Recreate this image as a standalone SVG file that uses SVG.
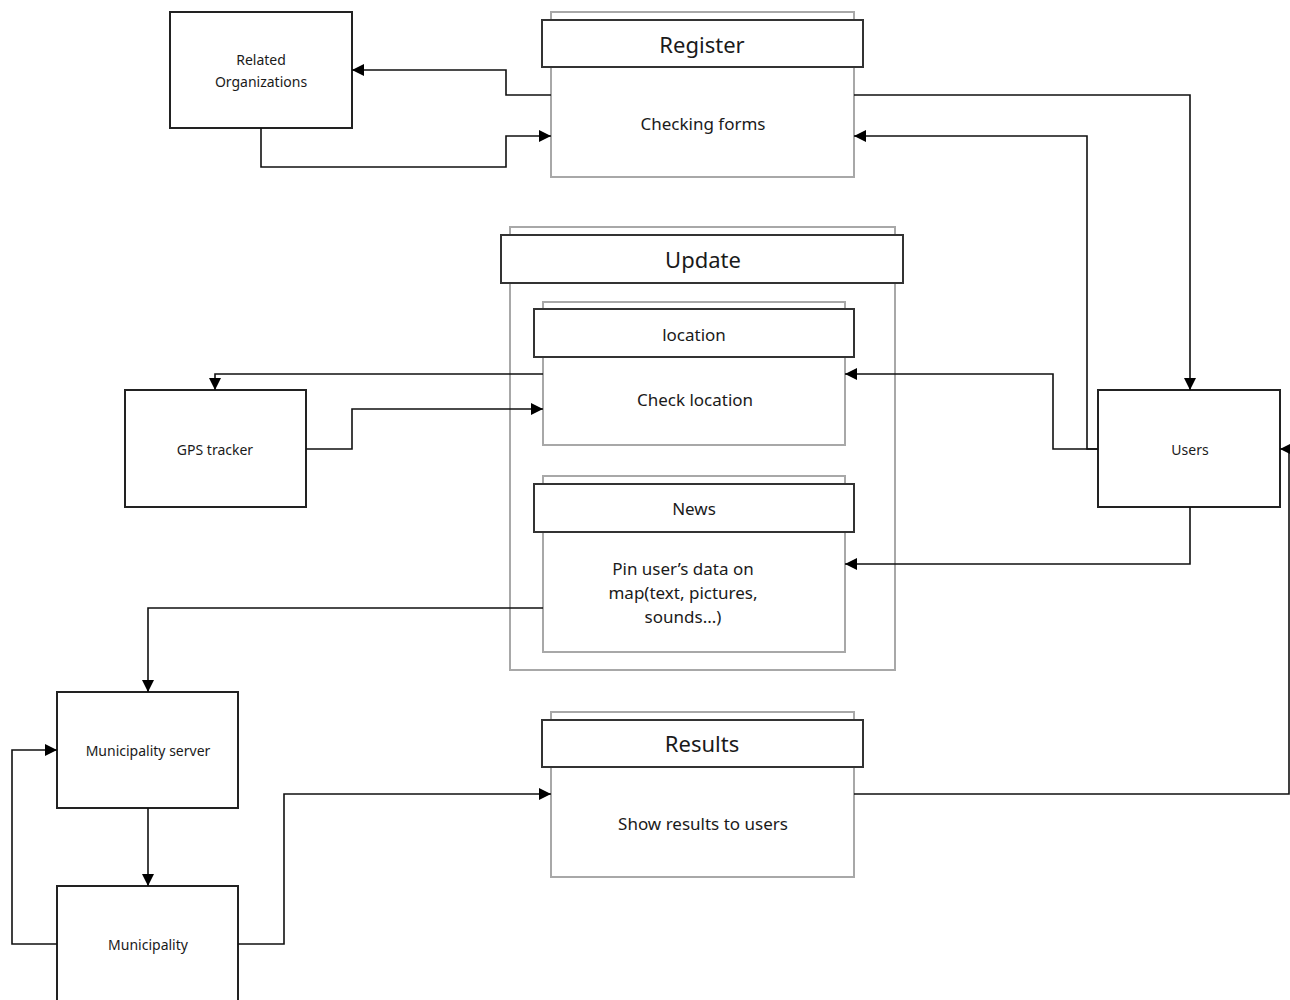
<svg xmlns="http://www.w3.org/2000/svg" width="1290" height="1000" viewBox="0 0 1290 1000">
<defs>
<marker id="ah" viewBox="0 0 10 10" refX="10" refY="5" markerWidth="12" markerHeight="12" markerUnits="userSpaceOnUse" orient="auto">
<path d="M0,0 L10,5 L0,10 Z" fill="#000"/>
</marker>
</defs>
<style>
.node{fill:#fff;stroke:#222;stroke-width:2}
.outer{fill:#fff;stroke:#a8a8a8;stroke-width:2}
.hdr{fill:#fff;stroke:#333;stroke-width:2}
.t{font-family:"Noto Sans","Open Sans",sans-serif;fill:#1a1a1a;text-anchor:middle;dominant-baseline:central}
.sm{font-size:14px}
.md{font-size:17px}
.lg{font-size:22px}
.ca{fill:none;stroke:#111;stroke-width:1.6;marker-end:url(#ah)}
</style>
<rect width="1290" height="1000" fill="#fff"/>

<g id="related-organizations">
<rect class="node" x="170" y="12" width="182" height="116"/>
<text class="t sm" x="261" y="59">Related</text>
<text class="t sm" x="261" y="81">Organizations</text>
</g>

<g id="register">
<rect class="outer" x="551" y="12" width="303" height="165"/>
<rect class="hdr" x="542" y="20" width="321" height="47"/>
<text class="t lg" x="702" y="44">Register</text>
<text class="t md" x="703" y="123">Checking forms</text>
</g>

<g id="update">
<rect class="outer" x="510" y="227" width="385" height="443"/>
<rect class="hdr" x="501" y="235" width="402" height="48"/>
<text class="t lg" x="703" y="259">Update</text>
</g>

<g id="location">
<rect class="outer" x="543" y="302" width="302" height="143"/>
<rect class="hdr" x="534" y="309" width="320" height="48"/>
<text class="t md" x="694" y="334">location</text>
<text class="t md" x="695" y="399">Check location</text>
</g>

<g id="news">
<rect class="outer" x="543" y="476" width="302" height="176"/>
<rect class="hdr" x="534" y="484" width="320" height="48"/>
<text class="t md" x="694" y="508">News</text>
<text class="t md" x="683" y="568">Pin user’s data on</text>
<text class="t md" x="683" y="592">map(text, pictures,</text>
<text class="t md" x="683" y="616">sounds...)</text>
</g>

<g id="gps-tracker">
<rect class="node" x="125" y="390" width="181" height="117"/>
<text class="t sm" x="215" y="449">GPS tracker</text>
</g>

<g id="users">
<rect class="node" x="1098" y="390" width="182" height="117"/>
<text class="t sm" x="1190" y="449">Users</text>
</g>

<g id="municipality-server">
<rect class="node" x="57" y="692" width="181" height="116"/>
<text class="t sm" x="148" y="750">Municipality server</text>
</g>

<g id="municipality">
<rect class="node" x="57" y="886" width="181" height="130"/>
<text class="t sm" x="148" y="944">Municipality</text>
</g>

<g id="results">
<rect class="outer" x="551" y="712" width="303" height="165"/>
<rect class="hdr" x="542" y="720" width="321" height="47"/>
<text class="t lg" x="702" y="743">Results</text>
<text class="t md" x="703" y="823">Show results to users</text>
</g>

<g id="connectors">
<path class="ca" d="M551,95 H506 V70 H352"/>
<path class="ca" d="M261,128 V167 H506 V136 H551"/>
<path class="ca" d="M854,95 H1190 V390"/>
<path class="ca" d="M1098,449 H1087 V136 H854"/>
<path class="ca" d="M1098,449 H1053 V374 H845"/>
<path class="ca" d="M1190,507 V564 H845"/>
<path class="ca" d="M854,794 H1289 V449 H1280"/>
<path class="ca" d="M543,374 H215 V390"/>
<path class="ca" d="M306,449 H352 V409 H543"/>
<path class="ca" d="M543,608 H148 V692"/>
<path class="ca" d="M148,808 V886"/>
<path class="ca" d="M57,944 H12 V750 H57"/>
<path class="ca" d="M238,944 H284 V794 H551"/>
</g>
</svg>
